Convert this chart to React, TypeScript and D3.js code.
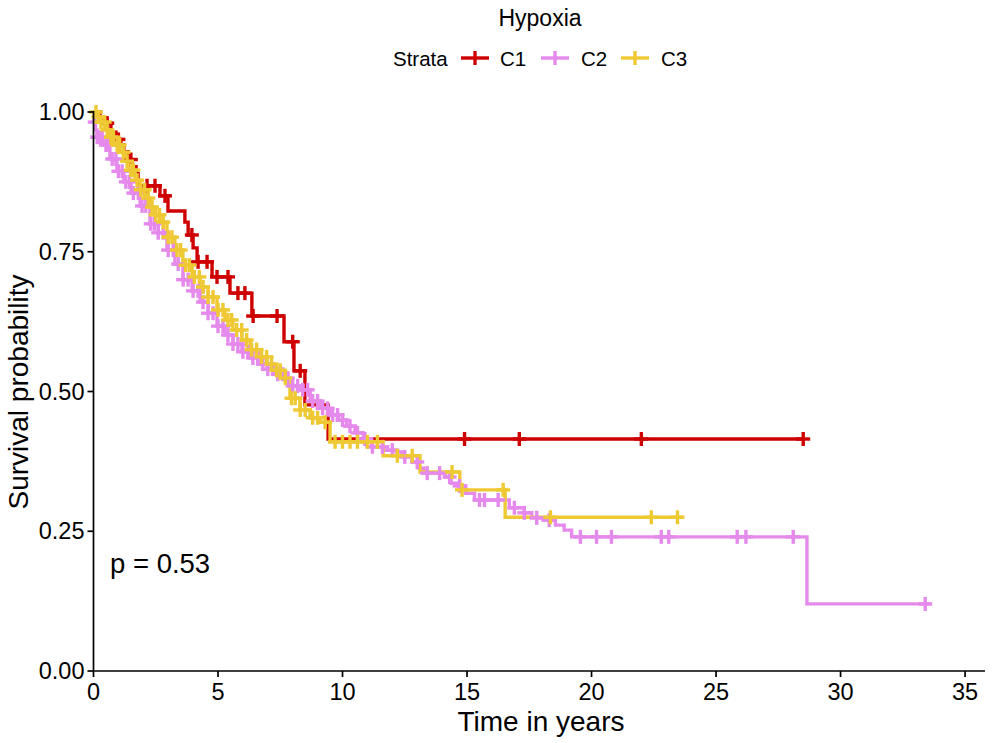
import React from "react";
import * as d3 from "d3";

// ---------- data (years, survival probability) ----------
const strata = ["C1", "C2", "C3"];
const colors = ["#CE0000", "#E58AEC", "#EFC934"];

const c1StepTimes = [0.26, 0.5, 0.7, 0.9, 1.1, 1.22, 1.39, 1.55, 1.71, 1.79, 2.67, 2.99, 3.67, 3.8, 4.0, 4.16, 4.76, 5.48, 6.36, 7.65, 8.05, 8.49, 9.42];
const c1StepSurv = [0.989, 0.98, 0.964, 0.951, 0.941, 0.929, 0.915, 0.902, 0.89, 0.868, 0.85, 0.823, 0.803, 0.78, 0.757, 0.732, 0.705, 0.676, 0.635, 0.589, 0.537, 0.476, 0.415];
const c1Censor = [0.55, 1.0, 1.5, 2.15, 2.47, 2.87, 3.95, 4.2, 4.56, 4.96, 5.4, 5.8, 6.08, 6.41, 7.37, 8.0, 8.3, 14.9, 17.1, 22.0, 28.5];
const c1End = 28.5;

const c2StepTimes = [0.04, 0.08, 0.14, 0.38, 0.66, 0.94, 1.22, 1.51, 1.87, 2.27, 2.6, 2.95, 3.27, 3.59, 3.96, 4.28, 4.6, 4.96, 5.28, 5.6, 5.96, 6.29, 6.61, 6.97, 7.29, 7.61, 7.89, 8.29, 8.7, 9.1, 9.5, 9.83, 10.16, 10.5, 10.84, 11.17, 11.63, 12.15, 12.39, 12.79, 13.05, 13.27, 14.12, 14.36, 14.65, 14.95, 15.3, 16.7, 17.3, 17.6, 18.05, 18.55, 18.9, 19.2, 28.65];
const c2StepSurv = [0.982, 0.968, 0.955, 0.941, 0.916, 0.894, 0.875, 0.855, 0.832, 0.8, 0.784, 0.753, 0.728, 0.7, 0.68, 0.66, 0.64, 0.617, 0.601, 0.585, 0.571, 0.56, 0.549, 0.54, 0.531, 0.524, 0.51, 0.503, 0.483, 0.47, 0.458, 0.449, 0.438, 0.426, 0.415, 0.401, 0.395, 0.392, 0.383, 0.374, 0.363, 0.354, 0.347, 0.336, 0.331, 0.318, 0.306, 0.292, 0.283, 0.274, 0.27, 0.261, 0.252, 0.24, 0.12];
const c2Censor = [0.05, 0.15, 0.25, 0.35, 0.5, 0.6, 0.75, 0.9, 1.0, 1.15, 1.3, 1.45, 1.6, 1.8, 1.95, 2.1, 2.3, 2.45, 2.6, 2.8, 3.0, 3.2, 3.4, 3.6, 3.8, 4.0, 4.2, 4.4, 4.6, 4.8, 5.0, 5.2, 5.4, 5.6, 5.8, 6.0, 6.2, 6.4, 6.6, 6.8, 7.0, 7.2, 7.4, 7.6, 7.8, 8.0, 8.2, 8.4, 8.6, 8.8, 9.0, 9.2, 9.4, 9.6, 9.8, 10.0, 10.3, 10.6, 10.9, 11.2, 11.6, 12.0, 12.5, 13.0, 13.4, 13.9, 14.3, 14.7, 15.5, 15.7, 16.25, 16.9, 17.3, 17.8, 18.3, 19.55, 20.2, 20.8, 22.8, 23.1, 25.85, 26.2, 28.1, 33.4];
const c2End = 33.6;

const c3StepTimes = [0.14, 0.26, 0.46, 0.66, 0.86, 1.06, 1.27, 1.47, 1.67, 1.87, 2.07, 2.27, 2.47, 2.67, 2.95, 3.27, 3.59, 3.96, 4.28, 4.6, 4.96, 5.28, 5.6, 5.96, 6.29, 6.61, 6.97, 7.29, 7.61, 7.89, 8.29, 8.7, 9.1, 9.5, 11.63, 13.11, 14.71, 16.53];
const c3StepSurv = [0.991, 0.982, 0.968, 0.955, 0.941, 0.928, 0.912, 0.896, 0.878, 0.861, 0.846, 0.83, 0.816, 0.803, 0.776, 0.753, 0.726, 0.705, 0.687, 0.669, 0.646, 0.628, 0.61, 0.592, 0.575, 0.562, 0.549, 0.538, 0.524, 0.488, 0.467, 0.453, 0.445, 0.41, 0.385, 0.356, 0.324, 0.275];
const c3Censor = [0.1, 0.2, 0.3, 0.45, 0.55, 0.7, 0.8, 0.95, 1.05, 1.2, 1.35, 1.5, 1.6, 1.75, 1.9, 2.05, 2.2, 2.35, 2.5, 2.65, 2.8, 3.0, 3.15, 3.35, 3.5, 3.7, 3.85, 4.05, 4.25, 4.4, 4.6, 4.8, 5.0, 5.2, 5.4, 5.55, 5.75, 5.95, 6.15, 6.35, 6.55, 6.75, 6.95, 7.15, 7.35, 7.5, 7.7, 7.95, 8.1, 8.3, 8.5, 8.8, 9.0, 9.3, 9.7, 10.0, 10.3, 10.6, 11.0, 11.4, 12.2, 12.8, 14.4, 14.8, 16.45, 18.35, 22.4, 23.45];
const c3End = 23.67;

const xTicks = [0, 5, 10, 15, 20, 25, 30, 35];
const yTicks = [0, 0.25, 0.5, 0.75, 1.0];
const pText = "p = 0.53";

// ---------- layout ----------
const W = 996;
const H = 743;
const FONT = "'Liberation Sans', Arial, Helvetica, sans-serif";

const x = d3.scaleLinear().domain([0, 35.8]).range([93.5, 985]);
const y = d3.scaleLinear().domain([0, 1]).range([671, 112]);

type Curve = { times: number[]; surv: number[]; censor: number[]; end: number };
const curves: Curve[] = [
  { times: c1StepTimes, surv: c1StepSurv, censor: c1Censor, end: c1End },
  { times: c2StepTimes, surv: c2StepSurv, censor: c2Censor, end: c2End },
  { times: c3StepTimes, surv: c3StepSurv, censor: c3Censor, end: c3End },
];

function survAt(c: Curve, t: number) {
  let s = 1;
  for (let i = 0; i < c.times.length; i++) {
    if (c.times[i] <= t) s = c.surv[i];
  }
  return s;
}

const stepLine = d3
  .line<[number, number]>()
  .x((d) => x(d[0]))
  .y((d) => y(d[1]))
  .curve(d3.curveStepAfter);

function curvePath(c: Curve) {
  const pts: [number, number][] = [[0, 1]];
  c.times.forEach((t, i) => pts.push([t, c.surv[i]]));
  pts.push([c.end, c.surv[c.surv.length - 1]]);
  return stepLine(pts) || "";
}

const PLUS = 7;
const LW = 3.4;

export default function App() {
  const legendItems = [
    { label: "C1", keyX: 461, textX: 500 },
    { label: "C2", keyX: 541, textX: 581 },
    { label: "C3", keyX: 621, textX: 661 },
  ];
  return (
    <svg
      width={W}
      height={H}
      style={{ position: "absolute", left: 0, top: 0, display: "block", background: "#fff" }}
      fontFamily={FONT}
    >
      {/* Title + legend */}
      <text x={540} y={18} fontSize={23} textAnchor="middle" dominantBaseline="central" fill="#000">
        Hypoxia
      </text>
      <text x={393} y={58} fontSize={20.5} dominantBaseline="central" fill="#000">
        Strata
      </text>
      {legendItems.map((it, i) => (
        <g key={it.label}>
          <line x1={it.keyX} x2={it.keyX + 28} y1={58} y2={58} stroke={colors[i]} strokeWidth={LW} />
          <line x1={it.keyX + 14} x2={it.keyX + 14} y1={58 - PLUS} y2={58 + PLUS} stroke={colors[i]} strokeWidth={LW} />
          <text x={it.textX} y={58} fontSize={20.5} dominantBaseline="central" fill="#000">
            {strata[i]}
          </text>
        </g>
      ))}

      {/* curves */}
      {curves.map((c, i) => (
        <path key={"p" + i} d={curvePath(c)} fill="none" stroke={colors[i]} strokeWidth={LW} />
      ))}
      {curves.map((c, i) => (
        <g key={"c" + i} stroke={colors[i]} strokeWidth={LW}>
          {c.censor.map((t, j) => {
            const cx = x(t);
            const cy = y(survAt(c, t));
            return (
              <g key={j}>
                <line x1={cx - PLUS} x2={cx + PLUS} y1={cy} y2={cy} />
                <line x1={cx} x2={cx} y1={cy - PLUS} y2={cy + PLUS} />
              </g>
            );
          })}
        </g>
      ))}

      {/* axes */}
      <line x1={x(0)} x2={x(0)} y1={y(1) - 1} y2={y(0)} stroke="#000" strokeWidth={1.7} />
      <line x1={x(0)} x2={985} y1={y(0)} y2={y(0)} stroke="#000" strokeWidth={1.7} />
      {yTicks.map((v) => (
        <g key={"y" + v}>
          <line x1={x(0) - 6} x2={x(0)} y1={y(v)} y2={y(v)} stroke="#000" strokeWidth={1.7} />
          <text x={x(0) - 9} y={y(v)} fontSize={23.5} textAnchor="end" dominantBaseline="central" fill="#000">
            {d3.format(".2f")(v)}
          </text>
        </g>
      ))}
      {xTicks.map((v) => (
        <g key={"x" + v}>
          <line x1={x(v)} x2={x(v)} y1={y(0)} y2={y(0) + 6} stroke="#000" strokeWidth={1.7} />
          <text x={x(v)} y={y(0) + 21} fontSize={23.5} textAnchor="middle" dominantBaseline="central" fill="#000">
            {v}
          </text>
        </g>
      ))}
      <text x={541} y={721} fontSize={28} textAnchor="middle" dominantBaseline="central" fill="#000">
        Time in years
      </text>
      <text
        transform={`translate(18,392) rotate(-90)`}
        fontSize={28}
        textAnchor="middle"
        dominantBaseline="central"
        fill="#000"
      >
        Survival probability
      </text>
      <text x={110} y={563} fontSize={27.5} dominantBaseline="central" fill="#000">
        {pText}
      </text>
    </svg>
  );
}
